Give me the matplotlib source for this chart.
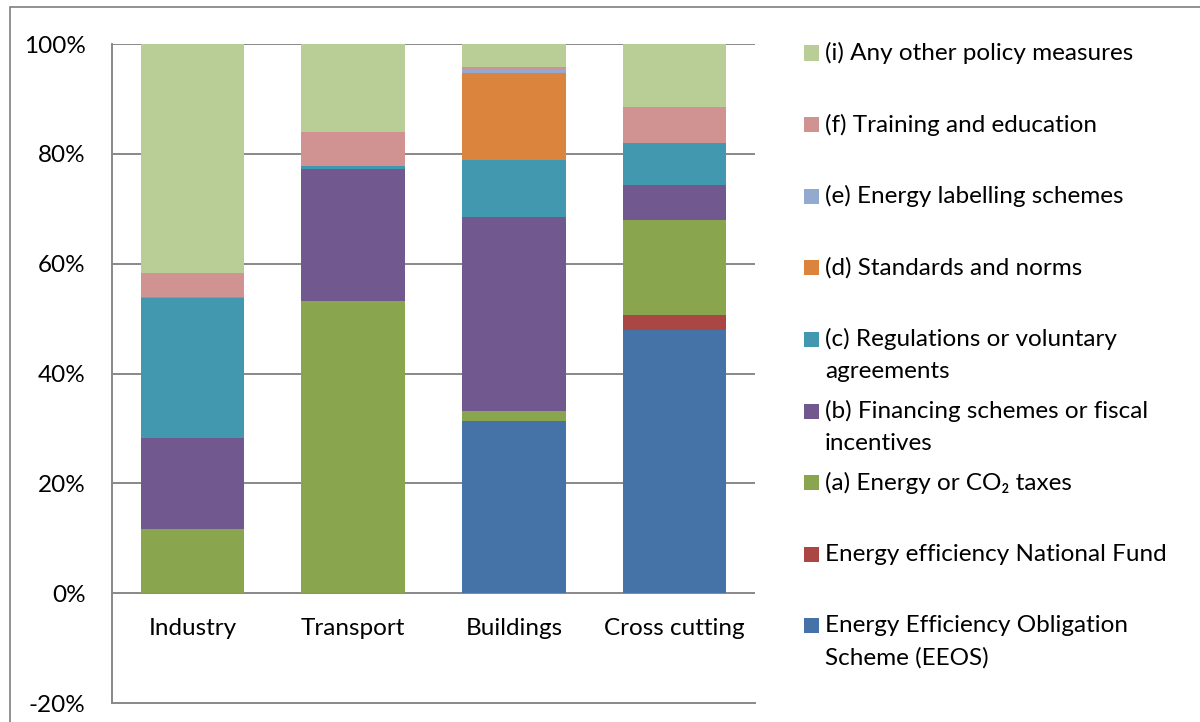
import numpy as np
import matplotlib
matplotlib.use('Agg')
import matplotlib.pyplot as plt
from matplotlib.patches import Rectangle

# ---- данные (доли в %) ----
categories = ['Industry', 'Transport', 'Buildings', 'Cross cutting']

eeos = [0, 0, 31.4, 48.0]
nat_fund = [0, 0, 0, 2.6]
taxes = [11.7, 53.2, 1.7, 17.4]
financing = [16.5, 24.1, 35.4, 6.4]
regulations = [25.5, 0.5, 10.4, 7.5]
standards = [0.3, 0, 15.9, 0]
labelling = [0, 0, 0.7, 0]
training = [4.3, 6.2, 0.3, 6.6]
other = [41.7, 16.0, 4.2, 11.5]

series_labels = [
    'Energy Efficiency Obligation\nScheme (EEOS)',
    'Energy efficiency National Fund',
    '(a) Energy or CO\u2082 taxes',
    '(b) Financing schemes or fiscal\nincentives',
    '(c) Regulations or voluntary\nagreements',
    '(d) Standards and norms',
    '(e) Energy labelling schemes',
    '(f) Training and education',
    '(i) Any other policy measures',
]
series_values = [eeos, nat_fund, taxes, financing, regulations,
                 standards, labelling, training, other]
colors = ['#4572A7', '#AA4643', '#89A54E', '#71588F', '#4198AF',
          '#DB843D', '#93A9CF', '#D19392', '#B9CD96']

plt.rcParams['font.family'] = ['Lato', 'DejaVu Sans']
FS = 17.5

W, H = 1200, 722
fig = plt.figure(figsize=(W / 100, H / 100), dpi=100)

# внешняя рамка
fig.patches.append(Rectangle((10 / W, -0.1), 1.2, 1 - 7 / H + 0.1,
                             transform=fig.transFigure, fill=False,
                             edgecolor='#7f7f7f', linewidth=1.2))

ax = fig.add_axes([112 / W, 1 - 703 / H, (755 - 112) / W, (703 - 44) / H])

x = np.arange(len(categories))
bottom = np.zeros(len(categories))
for vals, col in zip(series_values, colors):
    v = np.array(vals, dtype=float) / 100
    ax.bar(x, v, width=0.645, bottom=bottom, color=col, edgecolor='none', zorder=3)
    bottom += v

ax.set_xlim(-0.5, len(categories) - 0.5)
ax.set_ylim(-0.2, 1.0)
yt = np.arange(-0.2, 1.01, 0.2)
ax.set_yticks(yt)
ax.set_yticklabels([f'{round(t * 100)}%' for t in yt], fontsize=FS)
ax.set_xticks([])
for t in yt[1:]:
    ax.axhline(t, color='#888888', linewidth=1.4, zorder=1)

for i, c in enumerate(categories):
    ax.text(i, -0.064, c, ha='center', va='center', fontsize=FS)

for s in ['top', 'right']:
    ax.spines[s].set_visible(False)
for s in ['left', 'bottom']:
    ax.spines[s].set_color('#888888')
    ax.spines[s].set_linewidth(1.4)
ax.tick_params(axis='y', length=0, pad=19)

# легенда вручную (сверху вниз в обратном порядке)
y0, step, line_h = 53, 71.6, 32
for k, idx in enumerate(range(len(series_labels) - 1, -1, -1)):
    yc = y0 + k * step
    fig.patches.append(Rectangle((804 / W, 1 - (yc + 7.5) / H), 15 / W, 15 / H,
                                 transform=fig.transFigure,
                                 facecolor=colors[idx], edgecolor='none'))
    for j, line in enumerate(series_labels[idx].split('\n')):
        fig.text(825 / W, 1 - (yc + j * line_h) / H, line,
                 ha='left', va='center', fontsize=FS)

fig.savefig('out.png', dpi=100)
